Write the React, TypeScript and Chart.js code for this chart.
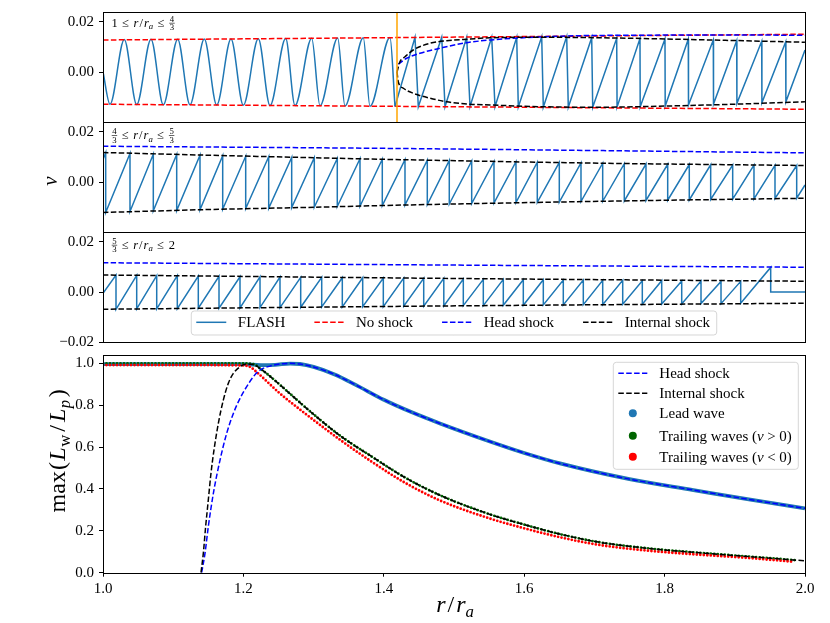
import React, { useEffect, useRef } from 'react';
import { Chart, registerables } from 'chart.js';

Chart.register(...registerables);

const SERIF = '"Liberation Serif", "Times New Roman", serif';
const FLASH_BLUE = '#1f77b4';
const DASH = [5.5, 2.4];

// ---------------- shared velocity axis ----------------
const V_MIN = -0.02;
const V_MAX = 0.024;
const V_TICKS_UPPER = [0, 0.02];
const V_TICKS_LOWER = [-0.02, 0, 0.02];

// ---------------- panel 1 : 1 <= r/ra <= 4/3 ----------------
const SHOCK_ONSET_R = 1.1396;
const p1WaveR = [1.0, 1.00332, 1.01011, 1.016, 1.02279, 1.02863, 1.03547, 1.04131, 1.0481, 1.05399, 1.06078, 1.06662, 1.07374, 1.0793, 1.08675, 1.09117, 1.0991, 1.10304, 1.11144, 1.11491, 1.1236, 1.12678, 1.13628, 1.13865];
const p1WaveV = [0, -0.0129, 0.013, -0.013, 0.0131, -0.0131, 0.0131, -0.0131, 0.0132, -0.0132, 0.0132, -0.0133, 0.0133, -0.0134, 0.0134, -0.0134, 0.0135, -0.0135, 0.0136, -0.0136, 0.0137, -0.0137, 0.0138, -0.0138];
const p1PeakR = [1.14815, 1.16083, 1.1727, 1.18457, 1.19644, 1.20831, 1.22018, 1.23205, 1.24392, 1.25498, 1.26685, 1.27791, 1.28979, 1.3009, 1.31277, 1.32416];
const p1DropR = [1.14972, 1.1624, 1.17427, 1.18614, 1.1972, 1.20907, 1.22094, 1.23253, 1.2441, 1.25508, 1.26695, 1.27801, 1.28989, 1.301, 1.31287, 1.32426];
const p1PeakV = [0.0139, 0.0139, 0.0139, 0.0139, 0.0139, 0.0141, 0.0142, 0.0137, 0.0135, 0.0134, 0.0132, 0.0131, 0.0128, 0.0125, 0.0123, 0.012];
const p1DropV = [-0.0139, -0.0139, -0.0138, -0.0139, -0.014, -0.0141, -0.0141, -0.0141, -0.014, -0.0139, -0.0136, -0.0132, -0.0128, -0.0125, -0.0123, -0.0119];
const P1_END_V = 0.0088;
const noShockR = [1.0, 4 / 3];
const noShockUpper = [0.0128, 0.0151];
const noShockLower = [-0.0129, -0.0149];
const p1IntUpperR = [1.1396, 1.141, 1.1434, 1.1473, 1.1553, 1.1632, 1.1743, 1.1838, 1.2089, 1.236, 1.2677, 1.2993, 1.3333];
const p1IntUpperV = [0, 0.0041, 0.0061, 0.0088, 0.0115, 0.0125, 0.0132, 0.0137, 0.0139, 0.0137, 0.0132, 0.0126, 0.0119];
const p1IntLowerR = [1.1396, 1.1402, 1.1426, 1.1473, 1.1553, 1.1632, 1.1743, 1.1838, 1.2089, 1.236, 1.2677, 1.2993, 1.3333];
const p1IntLowerV = [0, -0.0039, -0.0065, -0.0085, -0.0105, -0.0119, -0.0129, -0.0132, -0.0139, -0.0141, -0.0136, -0.0129, -0.0119];
const p1HeadR = [1.1402, 1.1442, 1.1505, 1.16, 1.1711, 1.1838, 1.2202, 1.2517, 1.2993, 1.3333];
const p1HeadV = [0.0031, 0.0055, 0.0075, 0.0095, 0.0115, 0.0128, 0.0144, 0.0147, 0.0148, 0.0147];

// ---------------- panel 2 : 4/3 <= r/ra <= 5/3 ----------------
const P2_START_V = 0.009;
const P2_END_V = -0.0012;
const p2ToothR = [1.33461, 1.34615, 1.35722, 1.36833, 1.37939, 1.39017, 1.40109, 1.41201, 1.42293, 1.43366, 1.44458, 1.45536, 1.46595, 1.47673, 1.48732, 1.49776, 1.5084, 1.51899, 1.52943, 1.53955, 1.55, 1.5603, 1.5706, 1.58086, 1.59116, 1.60147, 1.61172, 1.62188, 1.63233, 1.64244, 1.65242, 1.66272];
const p2Top = [0.0117, 0.0114, 0.0111, 0.011, 0.0107, 0.0105, 0.0103, 0.0101, 0.0098, 0.0097, 0.0094, 0.0093, 0.0091, 0.0089, 0.0087, 0.0086, 0.0084, 0.0082, 0.0081, 0.0079, 0.0078, 0.0076, 0.0075, 0.0073, 0.0072, 0.0071, 0.007, 0.0069, 0.0068, 0.00675, 0.0067, 0.0066];
const p2Bottom = [-0.0122, -0.0118, -0.0115, -0.0114, -0.0111, -0.0109, -0.0106, -0.0105, -0.0102, -0.0101, -0.0098, -0.0097, -0.0094, -0.0092, -0.009, -0.0088, -0.0086, -0.0084, -0.0082, -0.0081, -0.008, -0.0078, -0.0077, -0.0076, -0.0074, -0.0073, -0.0072, -0.007, -0.0069, -0.0068, -0.0066, -0.0065];
const p2EnvR = [4 / 3, 1.37939, 1.43366, 1.47673, 1.5706, 5 / 3];
const p2EnvTop = [0.0118, 0.0108, 0.0097, 0.0089, 0.0075, 0.0066];
const p2EnvBottom = [-0.0122, -0.0111, -0.0101, -0.0092, -0.0077, -0.0065];
const p2HeadR = [4 / 3, 1.4744, 5 / 3];
const p2HeadV = [0.0143, 0.0134, 0.01166];

// ---------------- panel 3 : 5/3 <= r/ra <= 2 ----------------
const P3_START_V = -0.0005;
const p3ToothR = [1.67284, 1.68267, 1.69217, 1.70195, 1.71192, 1.72175, 1.73172, 1.74122, 1.75071, 1.76054, 1.77052, 1.7803, 1.78998, 1.79977, 1.80945, 1.81895, 1.82849, 1.83775, 1.84725, 1.85674, 1.86624, 1.87574, 1.88523, 1.89473, 1.90394, 1.91344, 1.92275, 1.93196, 1.94146, 1.95062, 1.96012, 1.96947];
const p3Top = [0.00677, 0.00664, 0.00651, 0.00651, 0.00637, 0.00624, 0.00611, 0.00611, 0.00598, 0.00584, 0.00584, 0.00571, 0.00571, 0.00558, 0.00558, 0.00545, 0.00545, 0.00518, 0.00505, 0.00505, 0.00491, 0.00491, 0.00478, 0.00478, 0.00465, 0.00465, 0.00452, 0.00452, 0.00438, 0.00438, 0.00425, 0.00425];
const p3Bottom = [-0.00691, -0.00677, -0.00677, -0.00664, -0.00651, -0.00651, -0.00637, -0.00624, -0.00624, -0.00611, -0.00598, -0.00598, -0.00584, -0.00584, -0.00571, -0.00571, -0.00558, -0.00545, -0.00545, -0.00531, -0.00531, -0.00518, -0.00518, -0.00505, -0.00505, -0.00491, -0.00491, -0.00478, -0.00478, -0.00465, -0.00465, -0.00452];
const P3_LEAD_R = 1.98371;
const P3_LEAD_TOP = 0.00984;
const P3_AHEAD_V = 0;
const p3EnvR = [5 / 3, 1.8286, 2.0];
const p3EnvTop = [0.0068, 0.00545, 0.0043];
const p3EnvBottom = [-0.0069, -0.00558, -0.0045];
const p3HeadR = [5 / 3, 1.8286, 2.0];
const p3HeadV = [0.0117, 0.0108, 0.0099];

// ---------------- panel 4 : max(Lw/Lp) ----------------
const R_TICKS = [1.0, 1.2, 1.4, 1.6, 1.8, 2.0];
const L_TICKS = [0, 0.2, 0.4, 0.6, 0.8, 1.0];
const leadR = [1.0, 1.1, 1.2, 1.225, 1.245, 1.2664, 1.2806, 1.3, 1.33, 1.36, 1.4, 1.44, 1.48, 1.55, 1.6, 1.651, 1.75, 1.841, 1.92, 2.0];
const leadV = [0.996, 0.996, 0.996, 0.992, 0.993, 0.999, 0.997, 0.983, 0.947, 0.897, 0.826, 0.766, 0.713, 0.628, 0.572, 0.522, 0.447, 0.395, 0.35, 0.3075];
const headR = [1.1405, 1.1453, 1.15, 1.1572, 1.1667, 1.1762, 1.1857, 1.1952, 1.2047, 1.2141, 1.2236, 1.2379, 1.2521, 1.2664, 1.2806, 1.3, 1.33, 1.36, 1.4, 1.44, 1.48, 1.55, 1.6, 1.651, 1.75, 1.841, 1.92, 2.0];
const headV = [0, 0.0924, 0.2197, 0.379, 0.538, 0.666, 0.761, 0.833, 0.889, 0.936, 0.968, 0.987, 0.997, 1.0, 0.997, 0.983, 0.947, 0.897, 0.826, 0.766, 0.713, 0.628, 0.572, 0.522, 0.447, 0.395, 0.35, 0.3075];
const internalR = [1.1396, 1.1429, 1.1462, 1.15, 1.1538, 1.1581, 1.1643, 1.1714, 1.1785, 1.1857, 1.1952, 1.2047, 1.2141, 1.2236, 1.2426, 1.2664, 1.29, 1.3376, 1.385, 1.43, 1.48, 1.55, 1.6, 1.65, 1.708, 1.78, 1.85, 1.92, 1.983, 2.0];
const internalV = [0, 0.0924, 0.2197, 0.347, 0.4747, 0.586, 0.7134, 0.8247, 0.9045, 0.952, 0.984, 0.9967, 0.995, 0.976, 0.925, 0.855, 0.785, 0.655, 0.55, 0.455, 0.37, 0.28, 0.23, 0.185, 0.145, 0.115, 0.095, 0.077, 0.061, 0.057];
const trailPosR = [1.0, 1.1, 1.2, 1.214, 1.2236, 1.2426, 1.2664, 1.29, 1.3376, 1.385, 1.43, 1.48, 1.55, 1.6, 1.65, 1.708, 1.78, 1.85, 1.92, 1.986];
const trailPosV = [1.0, 1.0, 1.0, 0.997, 0.976, 0.925, 0.855, 0.785, 0.655, 0.55, 0.455, 0.37, 0.28, 0.23, 0.185, 0.145, 0.115, 0.095, 0.077, 0.06];
const trailNegR = [1.0, 1.1, 1.2, 1.21, 1.22, 1.233, 1.25, 1.29, 1.3376, 1.385, 1.43, 1.48, 1.55, 1.6, 1.65, 1.708, 1.78, 1.85, 1.92, 1.981];
const trailNegV = [0.992, 0.992, 0.99, 0.982, 0.955, 0.915, 0.862, 0.755, 0.635, 0.525, 0.43, 0.345, 0.26, 0.212, 0.17, 0.132, 0.104, 0.086, 0.07, 0.053];

// ---------------- helpers ----------------
type Pt = { x: number; y: number };
const pts = (xs: number[], ys: number[]): Pt[] => xs.map((x, i) => ({ x, y: ys[i] }));

function sawtooth(start: Pt, peakR: number[], dropR: number[], top: number[], bottom: number[], tail: Pt[]): Pt[] {
  const out: Pt[] = [start];
  peakR.forEach((r, i) => {
    out.push({ x: r, y: top[i] });
    out.push({ x: dropR[i], y: bottom[i] });
  });
  return out.concat(tail);
}

const lineDs = (data: Pt[], color: string, extra: any = {}) => ({
  type: 'line',
  data,
  borderColor: color,
  backgroundColor: color,
  borderWidth: 1.5,
  pointRadius: 0,
  fill: false,
  tension: 0,
  ...extra,
});

type Seg = { t?: string; it?: boolean; sub?: boolean; gap?: number; frac?: [string, string] };
const fontStr = (size: number, it?: boolean) => `${it ? 'italic ' : ''}${size}px ${SERIF}`;

function segWidth(ctx: CanvasRenderingContext2D, s: Seg, size: number) {
  if (s.gap) return s.gap;
  if (s.frac) {
    ctx.font = fontStr(size * 0.7);
    return Math.max(ctx.measureText(s.frac[0]).width, ctx.measureText(s.frac[1]).width) + 1.5;
  }
  ctx.font = fontStr(s.sub ? size * 0.7 : size, s.it);
  return ctx.measureText(s.t || '').width;
}
function segsWidth(ctx: CanvasRenderingContext2D, segs: Seg[], size: number) {
  return segs.reduce((w, s) => w + segWidth(ctx, s, size), 0);
}
function drawSegs(ctx: CanvasRenderingContext2D, segs: Seg[], x: number, y: number, size: number) {
  ctx.save();
  ctx.fillStyle = '#000';
  ctx.textAlign = 'left';
  ctx.textBaseline = 'alphabetic';
  let cx = x;
  for (const s of segs) {
    const w = segWidth(ctx, s, size);
    if (s.frac) {
      const fs = size * 0.7;
      ctx.font = fontStr(fs);
      const axis = y - size * 0.27;
      const nw = ctx.measureText(s.frac[0]).width;
      const dw = ctx.measureText(s.frac[1]).width;
      ctx.fillText(s.frac[0], cx + (w - nw) / 2, axis - 1.4);
      ctx.fillText(s.frac[1], cx + (w - dw) / 2, axis + 1.4 + fs * 0.68);
      ctx.fillRect(cx + 0.2, axis - 0.3, w - 0.4, 0.6);
    } else if (s.t) {
      ctx.font = fontStr(s.sub ? size * 0.7 : size, s.it);
      ctx.fillText(s.t, cx, s.sub ? y + size * 0.22 : y);
    }
    cx += w;
  }
  ctx.restore();
}

type LegendItem = { segs: Seg[]; kind: 'line' | 'dot'; color: string; dash?: number[] };
const LEG_SIZE = 15;

function legendFrame(ctx: CanvasRenderingContext2D, x: number, y: number, w: number, h: number) {
  ctx.save();
  ctx.beginPath();
  (ctx as any).roundRect(x, y, w, h, 3);
  ctx.fillStyle = 'rgba(255,255,255,0.8)';
  ctx.fill();
  ctx.strokeStyle = 'rgba(204,204,204,0.8)';
  ctx.lineWidth = 1;
  ctx.stroke();
  ctx.restore();
}
function legendHandle(ctx: CanvasRenderingContext2D, it: LegendItem, x: number, cy: number, len: number) {
  ctx.save();
  if (it.kind === 'line') {
    ctx.strokeStyle = it.color;
    ctx.lineWidth = 1.5;
    ctx.setLineDash(it.dash || []);
    ctx.beginPath();
    ctx.moveTo(x, cy);
    ctx.lineTo(x + len, cy);
    ctx.stroke();
  } else {
    ctx.fillStyle = it.color;
    ctx.beginPath();
    ctx.arc(x + len / 2, cy, 4, 0, Math.PI * 2);
    ctx.fill();
  }
  ctx.restore();
}

const framePlugin = {
  id: 'frame',
  afterDatasetsDraw(chart: any) {
    const { ctx, chartArea: a } = chart;
    const l = Math.round(a.left) + 0.5;
    const r = Math.round(a.right) + 0.5;
    const t = Math.round(a.top) + 0.5;
    const b = Math.round(a.bottom) + 0.5;
    ctx.save();
    ctx.strokeStyle = '#000';
    ctx.lineWidth = 1;
    ctx.strokeRect(l, t, r - l, b - t);
    ctx.restore();
  },
};

const LABEL_SIZE = 12.5;
const panelLabel = (segs: Seg[], dy: number) => ({
  id: 'panelLabel',
  afterDatasetsDraw(chart: any) {
    const { ctx, chartArea: a } = chart;
    drawSegs(ctx, segs, a.left + 8.5, a.top + dy, LABEL_SIZE);
  },
});
const rOverRa: Seg[] = [{ t: 'r', it: true }, { gap: 1 }, { t: '/' }, { gap: 1 }, { t: 'r', it: true }, { t: 'a', it: true, sub: true }];
const LE: Seg[] = [{ gap: 4.5 }, { t: '\u2264' }, { gap: 4.5 }];

const tickFont = { family: SERIF, size: 15 };
const fmtV = (v: number) => (v < 0 ? '\u2212' : '') + Math.abs(v).toFixed(2);

function velocityOptions(xMin: number, xMax: number, yTicks: number[]) {
  return {
    animation: false,
    responsive: false,
    maintainAspectRatio: false,
    events: [],
    layout: { padding: { top: 14, bottom: 14, left: 0, right: 25 } },
    plugins: { legend: { display: false }, tooltip: { enabled: false } },
    scales: {
      x: { type: 'linear', min: xMin, max: xMax, display: false },
      y: {
        type: 'linear',
        min: V_MIN,
        max: V_MAX,
        afterFit: (s: any) => { s.width = 103; },
        afterBuildTicks: (s: any) => { s.ticks = yTicks.map((value) => ({ value })); },
        grid: { drawOnChartArea: false, drawTicks: true, tickLength: 4, color: '#000', lineWidth: 1 },
        border: { display: false },
        ticks: { font: tickFont, color: '#000', padding: 5, callback: (v: any) => fmtV(Number(v)) },
      },
    },
  };
}

// ---------------- panel configs ----------------
function panel1Config() {
  const wave = pts(p1WaveR, p1WaveV);
  const post = sawtooth(wave[wave.length - 1], p1PeakR, p1DropR, p1PeakV, p1DropV, [{ x: 4 / 3, y: P1_END_V }]);
  return {
    type: 'line',
    data: {
      datasets: [
        lineDs([{ x: SHOCK_ONSET_R, y: V_MIN }, { x: SHOCK_ONSET_R, y: V_MAX }], 'orange'),
        lineDs(pts(p1IntUpperR, p1IntUpperV), '#000', { borderDash: DASH, cubicInterpolationMode: 'monotone' }),
        lineDs(pts(p1IntLowerR, p1IntLowerV), '#000', { borderDash: DASH, cubicInterpolationMode: 'monotone' }),
        lineDs(pts(p1HeadR, p1HeadV), 'blue', { borderDash: DASH, cubicInterpolationMode: 'monotone' }),
        lineDs(pts(noShockR, noShockUpper), 'red', { borderDash: DASH }),
        lineDs(pts(noShockR, noShockLower), 'red', { borderDash: DASH }),
        lineDs(post, FLASH_BLUE),
        lineDs(wave, FLASH_BLUE, { cubicInterpolationMode: 'monotone' }),
      ],
    },
    options: velocityOptions(1, 4 / 3, V_TICKS_UPPER),
    plugins: [
      framePlugin,
      panelLabel([{ t: '1' }, ...LE, ...rOverRa, ...LE, { frac: ['4', '3'] }], 14.5),
    ],
  };
}

function panel2Config() {
  const flash = sawtooth({ x: 4 / 3, y: P2_START_V }, p2ToothR, p2ToothR, p2Top, p2Bottom, [{ x: 5 / 3, y: P2_END_V }]);
  return {
    type: 'line',
    data: {
      datasets: [
        lineDs(pts(p2EnvR, p2EnvTop), '#000', { borderDash: DASH, tension: 0.3 }),
        lineDs(pts(p2EnvR, p2EnvBottom), '#000', { borderDash: DASH, tension: 0.3 }),
        lineDs(pts(p2HeadR, p2HeadV), 'blue', { borderDash: DASH, tension: 0.3 }),
        lineDs(flash, FLASH_BLUE),
      ],
    },
    options: velocityOptions(4 / 3, 5 / 3, V_TICKS_UPPER),
    plugins: [
      framePlugin,
      panelLabel([{ frac: ['4', '3'] }, ...LE, ...rOverRa, ...LE, { frac: ['5', '3'] }], 17),
      {
        id: 'vLabel',
        afterDatasetsDraw(chart: any) {
          const { ctx } = chart;
          ctx.save();
          ctx.translate(56.5, 73);
          ctx.rotate(-Math.PI / 2);
          ctx.font = fontStr(21, true);
          ctx.fillStyle = '#000';
          ctx.textAlign = 'center';
          ctx.textBaseline = 'alphabetic';
          ctx.fillText('v', 0, 0);
          ctx.restore();
        },
      },
    ],
  };
}

const p3Legend: LegendItem[] = [
  { segs: [{ t: 'FLASH' }], kind: 'line', color: FLASH_BLUE },
  { segs: [{ t: 'No shock' }], kind: 'line', color: 'red', dash: DASH },
  { segs: [{ t: 'Head shock' }], kind: 'line', color: 'blue', dash: DASH },
  { segs: [{ t: 'Internal shock' }], kind: 'line', color: '#000', dash: DASH },
];

function panel3Config() {
  const flash = sawtooth({ x: 5 / 3, y: P3_START_V }, p3ToothR, p3ToothR, p3Top, p3Bottom, [
    { x: P3_LEAD_R, y: P3_LEAD_TOP },
    { x: P3_LEAD_R, y: P3_AHEAD_V },
    { x: 2.0, y: P3_AHEAD_V },
  ]);
  return {
    type: 'line',
    data: {
      datasets: [
        lineDs(pts(p3EnvR, p3EnvTop), '#000', { borderDash: DASH, tension: 0.3 }),
        lineDs(pts(p3EnvR, p3EnvBottom), '#000', { borderDash: DASH, tension: 0.3 }),
        lineDs(pts(p3HeadR, p3HeadV), 'blue', { borderDash: DASH, tension: 0.3 }),
        lineDs(flash, FLASH_BLUE),
      ],
    },
    options: velocityOptions(5 / 3, 2, V_TICKS_LOWER),
    plugins: [
      framePlugin,
      panelLabel([{ frac: ['5', '3'] }, ...LE, ...rOverRa, ...LE, { t: '2' }], 16.5),
      {
        id: 'legend3',
        afterDraw(chart: any) {
          const { ctx, chartArea: a } = chart;
          const pad = 5, handle = 30, gapText = 11.6, colGap = 29, padR = 6.7, h = 24;
          const widths = p3Legend.map((it) => segsWidth(ctx, it.segs, LEG_SIZE));
          const w = pad + padR + widths.reduce((s, tw) => s + handle + gapText + tw, 0) + colGap * (p3Legend.length - 1);
          const x0 = (a.left + a.right) / 2 - w / 2;
          const y0 = a.bottom - 7 - h;
          legendFrame(ctx, x0, y0, w, h);
          let cx = x0 + pad;
          const cy = y0 + 11.3;
          p3Legend.forEach((it, i) => {
            legendHandle(ctx, it, cx, cy, handle);
            drawSegs(ctx, it.segs, cx + handle + gapText, cy + 5, LEG_SIZE);
            cx += handle + gapText + widths[i] + colGap;
          });
        },
      },
    ],
  };
}

const p4Legend: LegendItem[] = [
  { segs: [{ t: 'Head shock' }], kind: 'line', color: 'blue', dash: DASH },
  { segs: [{ t: 'Internal shock' }], kind: 'line', color: '#000', dash: DASH },
  { segs: [{ t: 'Lead wave' }], kind: 'dot', color: FLASH_BLUE },
  { segs: [{ t: 'Trailing waves (' }, { t: 'v', it: true }, { gap: 3.5 }, { t: '>' }, { gap: 3.5 }, { t: '0)' }], kind: 'dot', color: 'darkgreen' },
  { segs: [{ t: 'Trailing waves (' }, { t: 'v', it: true }, { gap: 3.5 }, { t: '<' }, { gap: 3.5 }, { t: '0)' }], kind: 'dot', color: 'red' },
];
const P4_ROW_OFFSETS = [11, 31, 51, 73.4, 94.4];

const P4_CANVAS_H = 282;
const P4_AREA_BOTTOM = 231.7;

function panel4Config() {
  const dots = (data: Pt[], color: string) =>
    lineDs(data, color, { borderWidth: 2.8, borderDash: [0, 3.5], borderCapStyle: 'round', cubicInterpolationMode: 'monotone' });
  return {
    type: 'line',
    data: {
      datasets: [
        lineDs(pts(internalR, internalV), '#000', { borderDash: DASH, cubicInterpolationMode: 'monotone' }),
        lineDs(pts(headR, headV), 'blue', { borderDash: DASH, cubicInterpolationMode: 'monotone' }),
        dots(pts(trailNegR, trailNegV), 'red'),
        dots(pts(trailPosR, trailPosV), 'darkgreen'),
        lineDs(pts(leadR, leadV), FLASH_BLUE, { borderWidth: 3.8, cubicInterpolationMode: 'monotone' }),
      ],
    },
    options: {
      animation: false,
      responsive: false,
      maintainAspectRatio: false,
      events: [],
      layout: { padding: { top: 14, bottom: 0, left: 0, right: 25 } },
      plugins: { legend: { display: false }, tooltip: { enabled: false } },
      scales: {
        x: {
          type: 'linear',
          min: 1,
          max: 2,
          afterFit: (s: any) => { s.height = P4_CANVAS_H - P4_AREA_BOTTOM; },
          afterBuildTicks: (s: any) => { s.ticks = R_TICKS.map((value) => ({ value })); },
          grid: { drawOnChartArea: false, drawTicks: true, tickLength: 4, color: '#000', lineWidth: 1 },
          border: { display: false },
          ticks: { font: tickFont, color: '#000', padding: 3, maxRotation: 0, autoSkip: false, callback: (v: any) => Number(v).toFixed(1) },
        },
        y: {
          type: 'linear',
          min: 0,
          max: 1.04,
          afterFit: (s: any) => { s.width = 103; },
          afterBuildTicks: (s: any) => { s.ticks = L_TICKS.map((value) => ({ value })); },
          grid: { drawOnChartArea: false, drawTicks: true, tickLength: 4, color: '#000', lineWidth: 1 },
          border: { display: false },
          ticks: { font: tickFont, color: '#000', padding: 5, callback: (v: any) => Number(v).toFixed(1) },
        },
      },
    },
    plugins: [
      framePlugin,
      {
        id: 'titles4',
        afterDraw(chart: any) {
          const { ctx, chartArea: a } = chart;
          const xSegs: Seg[] = [{ t: 'r', it: true }, { gap: 2 }, { t: '/' }, { gap: 2 }, { t: 'r', it: true }, { t: 'a', it: true, sub: true }];
          const xw = segsWidth(ctx, xSegs, 24);
          drawSegs(ctx, xSegs, (a.left + a.right) / 2 + 1 - xw / 2, 271, 24);
          const ySegs: Seg[] = [
            { t: 'max' }, { gap: 1 }, { t: '(' }, { gap: 1.5 }, { t: 'L', it: true }, { gap: 0.5 }, { t: 'w', sub: true }, { gap: 3 },
            { t: '/' }, { gap: 3 }, { t: 'L', it: true }, { gap: 0.5 }, { t: 'p', it: true, sub: true }, { gap: 2.5 }, { t: ')' },
          ];
          const yw = segsWidth(ctx, ySegs, 24);
          ctx.save();
          ctx.translate(64.5, (a.top + a.bottom) / 2 - 13);
          ctx.rotate(-Math.PI / 2);
          drawSegs(ctx, ySegs, -yw / 2, 0, 24);
          ctx.restore();
        },
      },
      {
        id: 'legend4',
        afterDraw(chart: any) {
          const { ctx, chartArea: a } = chart;
          const pad = 5, handle = 29, gapText = 12, padR = 6.6, h = 107;
          const tw = Math.max(...p4Legend.map((it) => segsWidth(ctx, it.segs, LEG_SIZE)));
          const w = pad + handle + gapText + tw + padR;
          const x0 = a.right - 6.7 - w;
          const y0 = a.top + 7.3;
          legendFrame(ctx, x0, y0, w, h);
          p4Legend.forEach((it, i) => {
            const cy = y0 + P4_ROW_OFFSETS[i];
            legendHandle(ctx, it, x0 + pad, cy, handle);
            drawSegs(ctx, it.segs, x0 + pad + handle + gapText, cy + 5, LEG_SIZE);
          });
        },
      },
    ],
  };
}

// ---------------- components ----------------
function Panel({ top, height, build }: { top: number; height: number; build: () => any }) {
  const ref = useRef<HTMLCanvasElement>(null);
  useEffect(() => {
    const chart = new Chart(ref.current as HTMLCanvasElement, build());
    return () => chart.destroy();
  }, []);
  return (
    <canvas
      ref={ref}
      width={830}
      height={height}
      style={{ position: 'absolute', left: 0, top, width: 830, height, display: 'block' }}
    />
  );
}

export default function App() {
  return (
    <div style={{ position: 'absolute', left: 0, top: 0, width: 830, height: 623, overflow: 'hidden', background: '#fff' }}>
      <Panel top={-2} height={138} build={panel1Config} />
      <Panel top={108} height={138} build={panel2Config} />
      <Panel top={218} height={138} build={panel3Config} />
      <Panel top={341} height={P4_CANVAS_H} build={panel4Config} />
    </div>
  );
}
